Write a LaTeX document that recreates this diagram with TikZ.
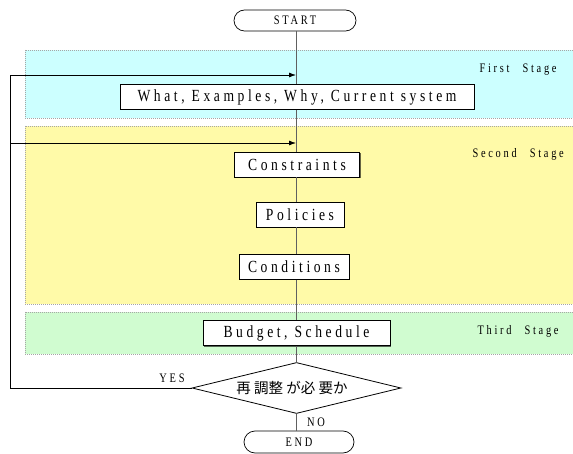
\documentclass[tikz,border=0pt]{standalone}
\usepackage{fontspec}
\setmainfont{Liberation Serif}
\newfontfamily\wideserif[LetterSpace=21,FakeStretch=0.8]{Liberation Serif}
\newfontfamily\cjk{Noto Sans CJK JP}
\usetikzlibrary{shapes.geometric,shapes.misc,arrows.meta,shadows}
\definecolor{bandcyan}{HTML}{CCFFFF}
\definecolor{bandyellow}{HTML}{FFFAA8}
\definecolor{bandgreen}{HTML}{D0FCD0}
\definecolor{flowgray}{HTML}{606060}
\begin{document}
\begin{tikzpicture}[x=1pt,y=-1pt,
  band/.style={draw=gray!70,dashed,dash pattern=on 1pt off 1pt,line width=0.5pt},
  procbox/.style={draw=black,fill=white,line width=0.8pt,minimum height=25pt,inner sep=0pt,font=\wideserif\fontsize{17}{17}\selectfont,
     drop shadow={shadow xshift=1pt,shadow yshift=-1pt,opacity=0.6,fill=black}},
  term/.style={draw=black,fill=white,rounded rectangle,line width=0.7pt,inner sep=0pt,font=\wideserif\fontsize{13}{13}\selectfont},
  stagelbl/.style={font=\wideserif\fontsize{13}{13}\selectfont,anchor=west},
  flow/.style={draw=flowgray,line width=0.8pt},
  fb/.style={draw=black,line width=0.8pt},
  fbarrow/.style={fb,-{Latex[length=7pt,width=5pt]}},
  small/.style={font=\wideserif\fontsize{13}{13}\selectfont}
]
\useasboundingbox (0,0) rectangle (573,454);
\fill[white] (0,0) rectangle (573,454);
% bands
\path[band,fill=bandcyan] (25,50) rectangle (574,118);
\path[band,fill=bandyellow] (25,126) rectangle (574,304);
\path[band,fill=bandgreen] (25,312) rectangle (574,354);
\node[stagelbl] (s1) at (476,70) {First\quad Stage};
\node[stagelbl] (s2) at (469,154) {Second\quad Stage};
\node[stagelbl] (s3) at (474,331) {Third\quad Stage};
% nodes
\node[term,minimum width=122pt,minimum height=21pt] (start) at (295,20.5) {START};
\node[procbox,minimum width=354pt] (what) at (297,97) {What, Examples, Why, Current system};
\node[procbox,minimum width=125pt] (cons) at (297,164.5) {Constraints};
\node[procbox,minimum width=88pt] (pol) at (300,214.5) {Policies};
\node[procbox,minimum width=110pt] (cond) at (294,267) {Conditions};
\node[procbox,minimum width=187pt] (bud) at (296.5,333) {Budget, Schedule};
\node[draw=black,fill=white,diamond,aspect=4.1,minimum width=209pt,minimum height=51pt,inner sep=0pt,line width=0.8pt,
      font=\cjk\fontsize{14.5}{14.5}\selectfont] (dec) at (296.5,388) {\hspace*{-9pt}再 調整 が必 要か};
\node[term,minimum width=110pt,minimum height=22pt] (end) at (299,442) {END};
% connectors on the main line
\coordinate (j1) at (296,75);
\coordinate (j2) at (296,143);
\coordinate (fbB) at (10,388);
\coordinate (fbT) at (10,75);
\coordinate (fbM) at (10,143);
\draw[flow] (start.south -| j1) -- (what.north -| j1);
\draw[flow] (what.south -| j1) -- (cons.north -| j1);
\draw[flow] (cons.south -| j1) -- (pol.north -| j1);
\draw[flow] (pol.south -| j1) -- (cond.north -| j1);
\draw[flow] (cond.south -| j1) -- (bud.north -| j1);
\draw[flow] (bud.south -| j1) -- (dec.north -| j1);
\draw[flow] (dec.south -| j1) -- (end.north -| j1);
% feedback
\draw[fb] (dec.west) -- (fbB) -- (fbT);
\draw[fbarrow] (fbT) -- (j1);
\draw[fbarrow] (fbM) -- (j2);
% labels
\node[small] (yes) at (172,378) {YES};
\node[small] (no) at (316,422) {NO};
\end{tikzpicture}
\end{document}
